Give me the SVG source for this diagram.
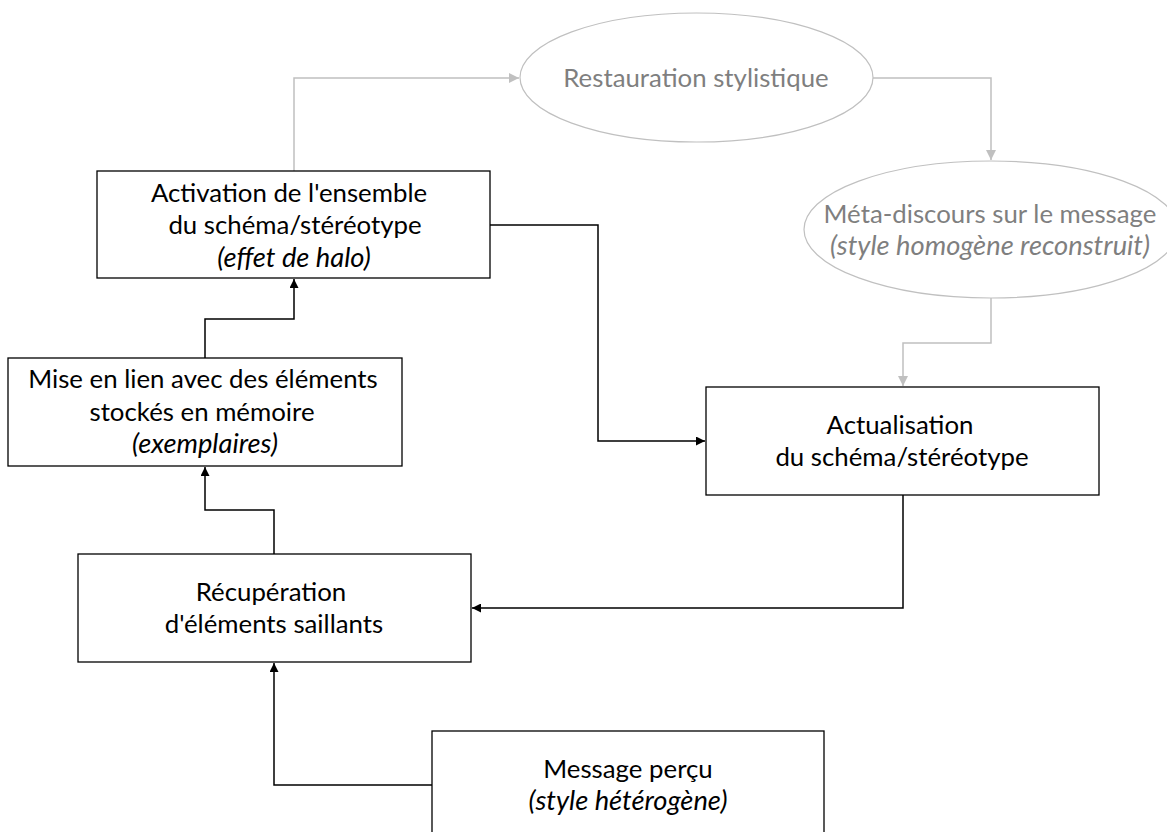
<svg xmlns="http://www.w3.org/2000/svg" width="1167" height="832" viewBox="0 0 1167 832">
<defs>
<style>
.box{fill:#fff;stroke:#000;stroke-width:1.3}
.ell{fill:#fff;stroke:#c0c0c0;stroke-width:1.2}
.t{font-family:Lato,"Open Sans","Liberation Sans",sans-serif;font-size:25.8px;fill:#000;text-anchor:middle}
.g{fill:#7f7f7f}
.i{font-style:italic;font-size:27.3px}
.cb{fill:none;stroke:#000;stroke-width:1.5}
.cg{fill:none;stroke:#c0c0c0;stroke-width:1.5}
</style>
<marker id="ab" viewBox="0 0 10 10" refX="10" refY="5" markerWidth="9" markerHeight="9" markerUnits="userSpaceOnUse" orient="auto"><path d="M0,0 L10,5 L0,10 z" fill="#000"/></marker>
<marker id="ag" viewBox="0 0 10 10" refX="10" refY="5" markerWidth="10" markerHeight="10" markerUnits="userSpaceOnUse" orient="auto"><path d="M0,0 L10,5 L0,10 z" fill="#c0c0c0"/></marker>
</defs>
<rect width="1167" height="832" fill="#fff"/>
<g id="connectors">
<path class="cg" d="M294,171 V78 H519" marker-end="url(#ag)"/>
<path class="cg" d="M873,78 H991 V160" marker-end="url(#ag)"/>
<path class="cg" d="M991,298 V343 H903 V386" marker-end="url(#ag)"/>
<path class="cb" d="M490,225 H598 V441 H705" marker-end="url(#ab)"/>
<path class="cb" d="M903,495 V608 H472" marker-end="url(#ab)"/>
<path class="cb" d="M274,554 V510 H205 V467" marker-end="url(#ab)"/>
<path class="cb" d="M205,358 V319 H294 V279" marker-end="url(#ab)"/>
<path class="cb" d="M432,785 H274 V663" marker-end="url(#ab)"/>
</g>
<g id="restauration">
<ellipse class="ell" cx="696.5" cy="77.5" rx="176.5" ry="64.5"/>
<text class="t g" x="696" y="87">Restauration stylistique</text>
</g>
<g id="meta-discours">
<ellipse class="ell" cx="991" cy="229.5" rx="187" ry="68.5"/>
<text class="t g" x="990" y="223">Méta-discours sur le message</text>
<text class="t g i" x="990" y="255">(style homogène reconstruit)</text>
</g>
<g id="activation">
<rect class="box" x="97" y="171" width="393" height="107"/>
<text class="t" x="289" y="202">Activation de l'ensemble</text>
<text class="t" x="295" y="234">du schéma/stéréotype</text>
<text class="t i" x="294" y="267">(effet de halo)</text>
</g>
<g id="mise-en-lien">
<rect class="box" x="8" y="358" width="394" height="108"/>
<text class="t" x="203" y="388">Mise en lien avec des éléments</text>
<text class="t" x="202" y="421">stockés en mémoire</text>
<text class="t i" x="205" y="453">(exemplaires)</text>
</g>
<g id="actualisation">
<rect class="box" x="706" y="387" width="393" height="108"/>
<text class="t" x="900" y="434">Actualisation</text>
<text class="t" x="902" y="466">du schéma/stéréotype</text>
</g>
<g id="recuperation">
<rect class="box" x="78" y="554" width="393" height="108"/>
<text class="t" x="271" y="601">Récupération</text>
<text class="t" x="274" y="633">d'éléments saillants</text>
</g>
<g id="message-percu">
<rect class="box" x="432" y="731" width="392" height="110"/>
<text class="t" x="628" y="778">Message perçu</text>
<text class="t i" x="628" y="810">(style hétérogène)</text>
</g>
</svg>
